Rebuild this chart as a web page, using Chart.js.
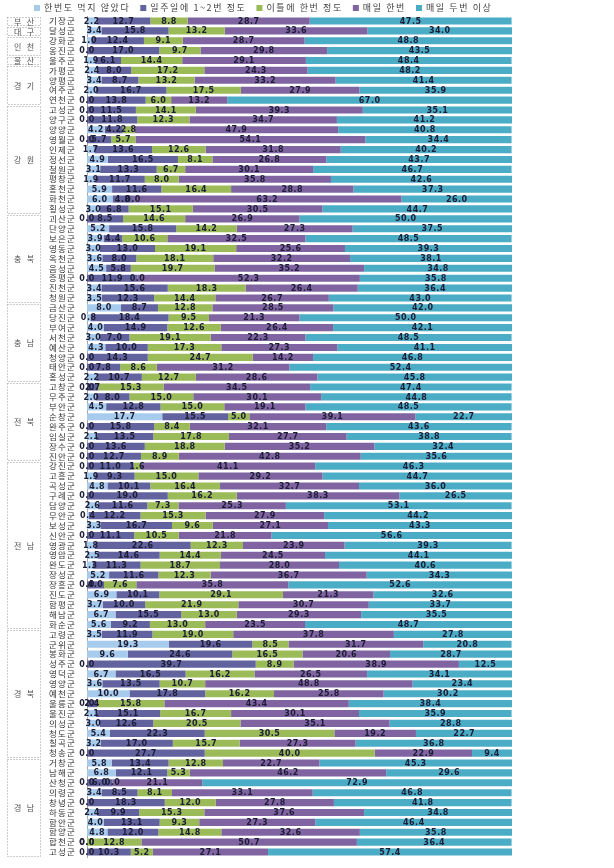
<!DOCTYPE html>
<html>
<head>
<meta charset="utf-8">
<script src="https://cdn.jsdelivr.net/npm/chart.js@4"></script>
<style>
  html, body { margin: 0; padding: 0; background: #fff; }
</style>
</head>
<body>
<canvas id="chart" width="614" height="868"></canvas>
<script>
// district names (top to bottom)
const districts = ['기장군','달성군','강화군','옹진군','울주군','가평군','양평군','여주군','연천군',
  '고성군','양구군','양양군','영월군','인제군','정선군','철원군','평창군','홍천군','화천군','횡성군',
  '괴산군','단양군','보은군','영동군','옥천군','음성군','증평군','진천군','청원군',
  '금산군','당진군','부여군','서천군','예산군','청양군','태안군','홍성군',
  '고창군','무주군','부안군','순창군','완주군','임실군','장수군','진안군',
  '강진군','고흥군','곡성군','구례군','담양군','무안군','보성군','신안군','영광군','영암군','완도군','장성군','장흥군','진도군','함평군','해남군','화순군',
  '고령군','군위군','봉화군','성주군','영덕군','영양군','예천군','울릉군','울진군','의성군','청도군','칠곡군','청송군',
  '거창군','남해군','산청군','의령군','창녕군','하동군','함안군','함양군','합천군','고성군'];

// province groups and how many districts each one covers
const regions = ['부 산','대 구','인 천','울 산','경 기','강 원','충 북','충 남','전 북','전 남','경 북','경 남'];
const regionSizes = [1, 1, 2, 1, 4, 11, 9, 8, 8, 17, 13, 10];

const seriesNames = ['한번도 먹지 않았다','일주일에 1~2번 정도','이틀에 한번 정도','매일 한번','매일 두번 이상'];

const never = [2.2,3.4,1.0,0.0,1.9,2.4,3.4,2.0,0.0,
  0.0,0.0,4.2,0.0,1.7,4.9,3.1,1.9,5.9,6.0,3.0,
  0.0,5.2,3.9,3.0,3.6,4.5,0.0,3.4,3.5,
  8.0,0.8,4.0,3.0,4.3,0.0,0.0,2.2,
  0.0,2.0,4.5,17.7,0.0,2.1,0.0,0.0,
  0.0,1.9,4.8,0.0,2.6,0.4,3.3,0.0,1.8,2.5,1.3,5.2,0.0,6.9,3.7,6.7,5.6,
  3.5,19.3,9.6,0.0,6.7,3.6,10.0,0.0,2.1,3.0,5.4,3.2,0.0,
  5.8,6.8,0.0,3.4,0.0,2.4,4.0,4.8,0.0,0.0];

const weekly = [12.7,15.8,12.4,17.0,6.1,8.0,8.7,16.7,13.8,
  11.5,11.8,4.2,5.7,13.6,16.5,13.3,11.7,11.6,4.8,6.8,
  8.5,15.8,4.4,13.0,8.0,5.8,11.9,15.6,12.3,
  8.7,18.4,14.9,7.0,10.0,14.3,7.8,10.7,
  2.7,8.0,12.8,15.5,15.8,13.5,13.6,12.7,
  11.0,9.3,10.1,19.0,11.6,12.2,16.7,11.1,22.6,14.6,11.3,11.6,4.0,10.1,10.0,15.5,9.2,
  11.9,19.6,24.6,39.7,16.5,13.5,17.8,2.4,15.1,12.6,22.3,17.0,27.7,
  13.4,12.1,6.0,8.5,18.3,9.9,13.1,12.0,0.0,10.3];

const everyOther = [8.8,13.2,9.1,9.7,14.4,17.2,13.2,17.5,6.0,
  14.1,12.3,2.8,5.7,12.6,8.1,6.7,8.0,16.4,0.0,15.1,
  14.6,14.2,10.6,19.1,18.1,19.7,0.0,18.3,14.4,
  12.8,9.5,12.6,19.1,17.3,24.7,8.6,12.7,
  15.3,15.0,15.0,5.0,8.4,17.8,18.8,8.9,
  1.6,15.0,16.4,16.2,7.3,15.3,9.6,10.5,12.3,14.4,18.7,12.3,7.6,29.1,21.9,13.0,13.0,
  19.0,8.5,16.5,8.9,16.2,10.7,16.2,15.8,16.7,20.5,30.5,15.7,40.0,
  12.8,5.3,0.0,8.1,12.0,15.3,9.3,14.8,12.8,5.2];

const daily = [28.7,33.6,28.7,29.8,29.1,24.3,33.2,27.9,13.2,
  39.3,34.7,47.9,54.1,31.8,26.8,30.1,35.8,28.8,63.2,30.5,
  26.9,27.3,32.5,25.6,32.2,35.2,52.3,26.4,26.7,
  28.5,21.3,26.4,22.3,27.3,14.2,31.2,28.6,
  34.5,30.1,19.1,39.1,32.1,27.7,35.2,42.8,
  41.1,29.2,32.7,38.3,25.3,27.9,27.1,21.8,23.9,24.5,28.0,36.7,35.8,21.3,30.7,29.3,23.5,
  37.8,31.7,20.6,38.9,26.5,48.8,25.8,43.4,30.1,35.1,19.2,27.3,22.9,
  22.7,46.2,21.1,33.1,27.8,37.6,27.3,32.6,50.7,27.1];

const twicePlus = [47.5,34.0,48.8,43.5,48.4,48.2,41.4,35.9,67.0,
  35.1,41.2,40.8,34.4,40.2,43.7,46.7,42.6,37.3,26.0,44.7,
  50.0,37.5,48.5,39.3,38.1,34.8,35.8,36.4,43.0,
  42.0,50.0,42.1,48.5,41.1,46.8,52.4,45.8,
  47.4,44.8,48.5,22.7,43.6,38.8,32.4,35.6,
  46.3,44.7,36.0,26.5,53.1,44.2,43.3,56.6,39.3,44.1,40.6,34.3,52.6,32.6,33.7,35.5,48.7,
  27.8,20.8,28.7,12.5,34.1,23.4,30.2,38.4,35.9,28.8,22.7,36.8,9.4,
  45.3,29.6,72.9,46.8,41.8,34.8,46.4,35.8,36.4,57.4];

const colors = ['#a7cbec', '#62629f', '#9bbb59', '#8064a2', '#4bacc6'];
const KR = '"Noto Sans CJK KR", "Noto Sans", sans-serif';

// legend across the top
const topLegend = {
  id: 'topLegend',
  afterDraw(chart) {
    const ctx = chart.ctx;
    ctx.save();
    ctx.font = '9px ' + KR;
    ctx.letterSpacing = '1.6px';
    ctx.textBaseline = 'middle';
    let x = 34;
    const y = 8;
    chart.data.datasets.forEach(ds => {
      ctx.fillStyle = ds.backgroundColor;
      ctx.fillRect(x, y - 3, 6, 6);
      x += 10;
      ctx.fillStyle = '#404040';
      ctx.fillText(ds.label, x, y);
      x += ctx.measureText(ds.label).width + 10;
    });
    ctx.restore();
  }
};

// district names next to the axis, and dotted province boxes further left
const sideLabels = {
  id: 'sideLabels',
  afterDraw(chart) {
    const ctx = chart.ctx;
    const ys = chart.scales.y;
    const step = ys.getPixelForValue(1) - ys.getPixelForValue(0);
    ctx.save();
    ctx.font = '8.5px ' + KR;
    ctx.letterSpacing = '1.2px';
    ctx.fillStyle = '#333';
    ctx.textAlign = 'right';
    ctx.textBaseline = 'middle';
    districts.forEach((name, i) => {
      ctx.fillText(name, 76, ys.getPixelForValue(i));
    });

    ctx.letterSpacing = '0px';
    let start = 0;
    regions.forEach((name, i) => {
      const end = start + regionSizes[i] - 1;
      const top = Math.round(ys.getPixelForValue(start) - step / 2) + 1.5;
      const bottom = Math.round(ys.getPixelForValue(end) + step / 2) - 0.5;
      ctx.setLineDash([1, 2]);
      ctx.strokeStyle = '#9a9a9a';
      ctx.lineWidth = 1;
      ctx.strokeRect(7.5, top, 33, bottom - top);
      ctx.setLineDash([]);
      ctx.fillStyle = '#555';
      ctx.font = '8px ' + KR;
      ctx.textAlign = 'center';
      ctx.fillText(name.replace(' ', '   '), 24, (top + bottom) / 2);
      start = end + 1;
    });
    ctx.restore();
  }
};

// value printed in the middle of every segment
const segmentValues = {
  id: 'segmentValues',
  afterDatasetsDraw(chart) {
    const ctx = chart.ctx;
    ctx.save();
    ctx.font = 'bold 8px "DejaVu Sans"';
    ctx.letterSpacing = '0.5px';
    ctx.fillStyle = '#1d1d35';
    ctx.textAlign = 'center';
    ctx.textBaseline = 'middle';
    chart.data.datasets.forEach((ds, di) => {
      chart.getDatasetMeta(di).data.forEach((bar, i) => {
        ctx.fillText(ds.data[i].toFixed(1), (bar.x + bar.base) / 2, bar.y + 0.5);
      });
    });
    ctx.restore();
  }
};

const series = [never, weekly, everyOther, daily, twicePlus];

new Chart(document.getElementById('chart'), {
  type: 'bar',
  data: {
    labels: districts,
    datasets: series.map((vals, i) => ({
      label: seriesNames[i],
      data: vals,
      backgroundColor: colors[i],
      borderWidth: 0,
      categoryPercentage: 1,
      barPercentage: 0.72
    }))
  },
  options: {
    indexAxis: 'y',
    responsive: false,
    animation: false,
    layout: { padding: { top: 16, bottom: 11, right: 102, left: 0 } },
    scales: {
      x: {
        stacked: true,
        min: 0,
        max: 100,
        display: false
      },
      y: {
        stacked: true,
        grid: { display: false },
        border: { display: true, color: '#a6a6a6' },
        afterFit: scale => { scale.width = 87; },
        ticks: { display: false }
      }
    },
    plugins: {
      legend: { display: false },
      tooltip: { enabled: false }
    }
  },
  plugins: [segmentValues, sideLabels, topLegend]
});
</script>
</body>
</html>
